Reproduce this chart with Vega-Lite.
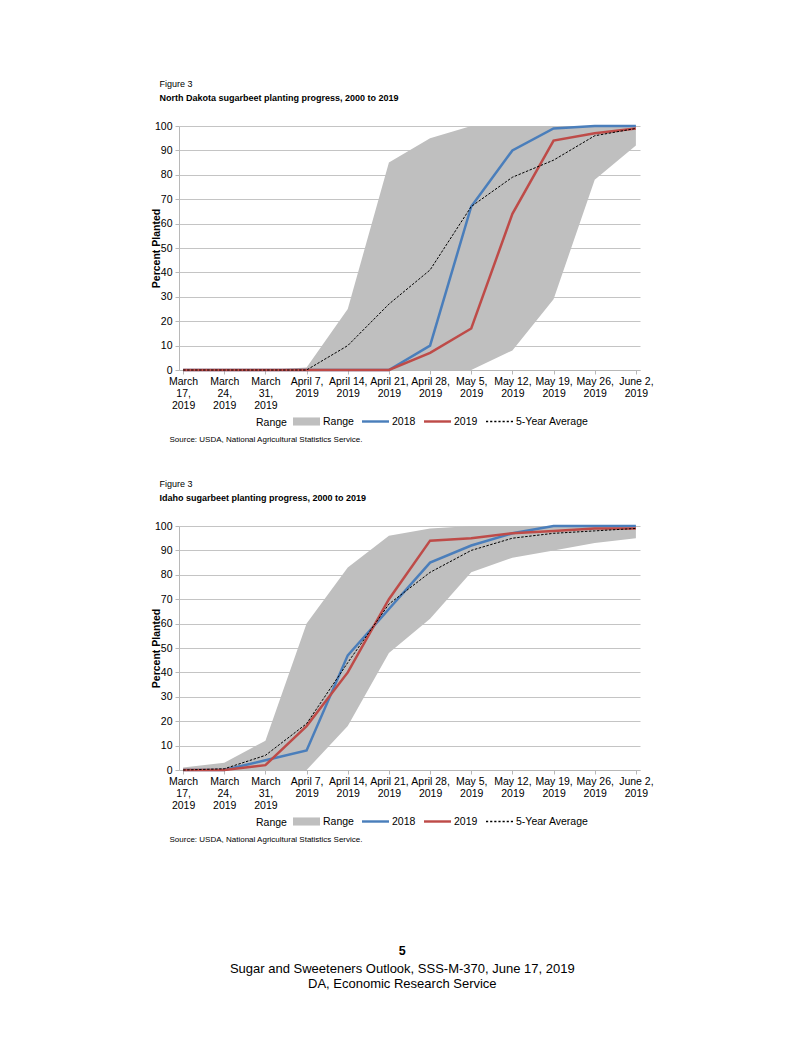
{
  "$schema": "https://vega.github.io/schema/vega-lite/v6.json",
  "padding": {"left": 151, "top": 80, "right": 5, "bottom": 5},
  "background": "white",
  "config": {
    "font": "Liberation Sans",
    "view": {"stroke": null},
    "axis": {"labelFont": "Liberation Sans", "labelFontSize": 10.5, "labelColor": "black", "titleFont": "Liberation Sans", "titleColor": "black", "domainColor": "#B8B8B8", "tickColor": "#B8B8B8", "gridColor": "#C4C4C4"},
    "axisY": {"grid": true, "tickSize": 4, "labelPadding": 3, "titleFontSize": 10.5, "titleFontWeight": "bold", "titlePadding": -7, "labelOverlap": false},
    "axisX": {"grid": false, "labelAngle": 0, "tickSize": 4, "labelLineHeight": 12, "labelPadding": 2, "labelBaseline": "top"},
    "legend": {"orient": "none", "legendX": 77, "legendY": 282, "direction": "horizontal", "titleOrient": "left", "titleAnchor": "middle", "titleBaseline": "top", "titlePadding": 6, "titleFontSize": 10.5, "titleFontWeight": "normal", "titleColor": "black", "titleFont": "Liberation Sans", "labelFontSize": 10.5, "labelColor": "black", "labelFont": "Liberation Sans", "symbolSize": 729, "symbolOpacity": 1, "symbolStrokeWidth": 0, "labelOffset": 3, "columnPadding": 8, "padding": 0}
  },
  "datasets": {
    "nd_range": [
      {"week": "March 17, 2019", "pct": 0, "pct_high": 0},
      {"week": "March 24, 2019", "pct": 0, "pct_high": 0},
      {"week": "March 31, 2019", "pct": 0, "pct_high": 0},
      {"week": "April 7, 2019", "pct": 0, "pct_high": 1},
      {"week": "April 14, 2019", "pct": 0, "pct_high": 25},
      {"week": "April 21, 2019", "pct": 0, "pct_high": 85},
      {"week": "April 28, 2019", "pct": 0, "pct_high": 95},
      {"week": "May 5, 2019", "pct": 0, "pct_high": 100},
      {"week": "May 12, 2019", "pct": 8, "pct_high": 100},
      {"week": "May 19, 2019", "pct": 29, "pct_high": 100},
      {"week": "May 26, 2019", "pct": 78, "pct_high": 100},
      {"week": "June 2, 2019", "pct": 92, "pct_high": 100}
    ],
    "nd_lines": [
      {"week": "March 17, 2019", "series": "2018", "pct": 0},
      {"week": "March 24, 2019", "series": "2018", "pct": 0},
      {"week": "March 31, 2019", "series": "2018", "pct": 0},
      {"week": "April 7, 2019", "series": "2018", "pct": 0},
      {"week": "April 14, 2019", "series": "2018", "pct": 0},
      {"week": "April 21, 2019", "series": "2018", "pct": 0},
      {"week": "April 28, 2019", "series": "2018", "pct": 10},
      {"week": "May 5, 2019", "series": "2018", "pct": 67},
      {"week": "May 12, 2019", "series": "2018", "pct": 90},
      {"week": "May 19, 2019", "series": "2018", "pct": 99},
      {"week": "May 26, 2019", "series": "2018", "pct": 100},
      {"week": "June 2, 2019", "series": "2018", "pct": 100},
      {"week": "March 17, 2019", "series": "2019", "pct": 0},
      {"week": "March 24, 2019", "series": "2019", "pct": 0},
      {"week": "March 31, 2019", "series": "2019", "pct": 0},
      {"week": "April 7, 2019", "series": "2019", "pct": 0},
      {"week": "April 14, 2019", "series": "2019", "pct": 0},
      {"week": "April 21, 2019", "series": "2019", "pct": 0},
      {"week": "April 28, 2019", "series": "2019", "pct": 7},
      {"week": "May 5, 2019", "series": "2019", "pct": 17},
      {"week": "May 12, 2019", "series": "2019", "pct": 64},
      {"week": "May 19, 2019", "series": "2019", "pct": 94},
      {"week": "May 26, 2019", "series": "2019", "pct": 97},
      {"week": "June 2, 2019", "series": "2019", "pct": 99},
      {"week": "March 17, 2019", "series": "5-Year Average", "pct": 0},
      {"week": "March 24, 2019", "series": "5-Year Average", "pct": 0},
      {"week": "March 31, 2019", "series": "5-Year Average", "pct": 0},
      {"week": "April 7, 2019", "series": "5-Year Average", "pct": 0},
      {"week": "April 14, 2019", "series": "5-Year Average", "pct": 10},
      {"week": "April 21, 2019", "series": "5-Year Average", "pct": 27},
      {"week": "April 28, 2019", "series": "5-Year Average", "pct": 41},
      {"week": "May 5, 2019", "series": "5-Year Average", "pct": 67},
      {"week": "May 12, 2019", "series": "5-Year Average", "pct": 79},
      {"week": "May 19, 2019", "series": "5-Year Average", "pct": 86},
      {"week": "May 26, 2019", "series": "5-Year Average", "pct": 96},
      {"week": "June 2, 2019", "series": "5-Year Average", "pct": 99}
    ],
    "id_range": [
      {"week": "March 17, 2019", "pct": 0, "pct_high": 1},
      {"week": "March 24, 2019", "pct": 0, "pct_high": 3},
      {"week": "March 31, 2019", "pct": 0, "pct_high": 12},
      {"week": "April 7, 2019", "pct": 0, "pct_high": 60},
      {"week": "April 14, 2019", "pct": 18, "pct_high": 83},
      {"week": "April 21, 2019", "pct": 48, "pct_high": 96},
      {"week": "April 28, 2019", "pct": 62, "pct_high": 99},
      {"week": "May 5, 2019", "pct": 81, "pct_high": 100},
      {"week": "May 12, 2019", "pct": 87, "pct_high": 100},
      {"week": "May 19, 2019", "pct": 90, "pct_high": 100},
      {"week": "May 26, 2019", "pct": 93, "pct_high": 100},
      {"week": "June 2, 2019", "pct": 95, "pct_high": 100}
    ],
    "id_lines": [
      {"week": "March 17, 2019", "series": "2018", "pct": 0},
      {"week": "March 24, 2019", "series": "2018", "pct": 0},
      {"week": "March 31, 2019", "series": "2018", "pct": 4},
      {"week": "April 7, 2019", "series": "2018", "pct": 8},
      {"week": "April 14, 2019", "series": "2018", "pct": 47},
      {"week": "April 21, 2019", "series": "2018", "pct": 66},
      {"week": "April 28, 2019", "series": "2018", "pct": 85},
      {"week": "May 5, 2019", "series": "2018", "pct": 92},
      {"week": "May 12, 2019", "series": "2018", "pct": 97},
      {"week": "May 19, 2019", "series": "2018", "pct": 100},
      {"week": "May 26, 2019", "series": "2018", "pct": 100},
      {"week": "June 2, 2019", "series": "2018", "pct": 100},
      {"week": "March 17, 2019", "series": "2019", "pct": 0},
      {"week": "March 24, 2019", "series": "2019", "pct": 0},
      {"week": "March 31, 2019", "series": "2019", "pct": 2},
      {"week": "April 7, 2019", "series": "2019", "pct": 18},
      {"week": "April 14, 2019", "series": "2019", "pct": 40},
      {"week": "April 21, 2019", "series": "2019", "pct": 70},
      {"week": "April 28, 2019", "series": "2019", "pct": 94},
      {"week": "May 5, 2019", "series": "2019", "pct": 95},
      {"week": "May 12, 2019", "series": "2019", "pct": 97},
      {"week": "May 19, 2019", "series": "2019", "pct": 98},
      {"week": "May 26, 2019", "series": "2019", "pct": 99},
      {"week": "June 2, 2019", "series": "2019", "pct": 99},
      {"week": "March 17, 2019", "series": "5-Year Average", "pct": 0},
      {"week": "March 24, 2019", "series": "5-Year Average", "pct": 0.5},
      {"week": "March 31, 2019", "series": "5-Year Average", "pct": 6},
      {"week": "April 7, 2019", "series": "5-Year Average", "pct": 19},
      {"week": "April 14, 2019", "series": "5-Year Average", "pct": 44},
      {"week": "April 21, 2019", "series": "5-Year Average", "pct": 68},
      {"week": "April 28, 2019", "series": "5-Year Average", "pct": 81},
      {"week": "May 5, 2019", "series": "5-Year Average", "pct": 90},
      {"week": "May 12, 2019", "series": "5-Year Average", "pct": 95},
      {"week": "May 19, 2019", "series": "5-Year Average", "pct": 97},
      {"week": "May 26, 2019", "series": "5-Year Average", "pct": 98},
      {"week": "June 2, 2019", "series": "5-Year Average", "pct": 99}
    ]
  },
  "title": {
    "text": "5",
    "subtitle": ["Sugar and Sweeteners Outlook, SSS-M-370, June 17, 2019", "DA, Economic Research Service"],
    "orient": "bottom",
    "anchor": "middle",
    "fontSize": 12.5,
    "fontWeight": "bold",
    "color": "black",
    "subtitleFontSize": 13,
    "subtitleColor": "black",
    "subtitleLineHeight": 15,
    "subtitlePadding": 5,
    "offset": 102
  },
  "spacing": 37,
  "resolve": {
    "scale": {"x": "independent", "y": "independent", "color": "independent", "shape": "independent"},
    "legend": {"color": "independent", "shape": "independent"}
  },
  "vconcat": [
    {
      "width": 461,
      "height": 244,
      "title": {"text": "Figure 3", "subtitle": "North Dakota sugarbeet planting progress, 2000 to 2019", "anchor": "start", "frame": "bounds", "dx": 8, "fontSize": 9, "fontWeight": "normal", "color": "black", "subtitleFontSize": 9, "subtitleFontWeight": "bold", "subtitleColor": "black", "subtitlePadding": 5, "offset": 18},
      "encoding": {
        "x": {
          "field": "week", "type": "ordinal",
          "scale": {"type": "point", "padding": 0.1, "domain": ["March 17, 2019", "March 24, 2019", "March 31, 2019", "April 7, 2019", "April 14, 2019", "April 21, 2019", "April 28, 2019", "May 5, 2019", "May 12, 2019", "May 19, 2019", "May 26, 2019", "June 2, 2019"]},
          "axis": {
            "title": "Source: USDA, National Agricultural Statistics Service.",
            "titleFontSize": 8, "titleFontWeight": "normal", "titleAlign": "left", "titleAnchor": "start", "titleBaseline": "middle", "titleX": -10, "titleY": 69,
            "labelExpr": "indexof(datum.value, 'March') == 0 ? split(datum.value, ' ') : [slice(datum.value, 0, -5), '2019']"
          }
        },
        "y": {
          "field": "pct", "type": "quantitative", "title": "Percent Planted",
          "scale": {"domain": [0, 100], "nice": false, "zero": true},
          "axis": {"values": [0, 10, 20, 30, 40, 50, 60, 70, 80, 90, 100], "tickCount": 11}
        }
      },
      "layer": [
        {
          "data": {"name": "nd_range"},
          "mark": {"type": "area", "color": "#BFBFBF"},
          "encoding": {"y2": {"field": "pct_high"}}
        },
        {
          "data": {"name": "nd_lines"},
          "transform": [{"filter": "datum.series == '2018'"}],
          "mark": {"type": "line", "color": "#4A7EBB", "strokeWidth": 2.5}
        },
        {
          "data": {"name": "nd_lines"},
          "transform": [{"filter": "datum.series == '2019'"}],
          "mark": {"type": "line", "color": "#BE4B48", "strokeWidth": 2.5}
        },
        {
          "data": {"name": "nd_lines"},
          "transform": [{"filter": "datum.series == '5-Year Average'"}],
          "mark": {"type": "line", "color": "#000000", "strokeWidth": 1, "strokeDash": [2.5, 1.5]}
        },
        {
          "data": {"name": "nd_lines"},
          "transform": [{"filter": "datum.pct < 0"}],
          "mark": {"type": "point", "filled": true, "opacity": 1},
          "encoding": {
            "color": {
              "field": "series", "type": "nominal", "title": "Range",
              "scale": {"domain": ["Range", "2018", "2019", "5-Year Average"], "range": ["#BFBFBF", "#4A7EBB", "#BE4B48", "#000000"]}
            },
            "shape": {
              "field": "series", "type": "nominal", "title": "Range",
              "scale": {"domain": ["Range", "2018", "2019", "5-Year Average"], "range": ["M-1,-0.3H1V0.3H-1Z", "M-1,-0.09H1V0.09H-1Z", "M-1,-0.09H1V0.09H-1Z", "M-1,-0.05H-0.84V0.05H-1Z M-0.693,-0.05H-0.533V0.05H-0.693Z M-0.387,-0.05H-0.227V0.05H-0.387Z M-0.08,-0.05H0.08V0.05H-0.08Z M0.227,-0.05H0.387V0.05H0.227Z M0.533,-0.05H0.693V0.05H0.533Z M0.84,-0.05H1V0.05H0.84Z"]}
            }
          }
        }
      ]
    },
    {
      "width": 461,
      "height": 244,
      "title": {"text": "Figure 3", "subtitle": "Idaho sugarbeet planting progress, 2000 to 2019", "anchor": "start", "frame": "bounds", "dx": 8, "fontSize": 9, "fontWeight": "normal", "color": "black", "subtitleFontSize": 9, "subtitleFontWeight": "bold", "subtitleColor": "black", "subtitlePadding": 5, "offset": 18},
      "encoding": {
        "x": {
          "field": "week", "type": "ordinal",
          "scale": {"type": "point", "padding": 0.1, "domain": ["March 17, 2019", "March 24, 2019", "March 31, 2019", "April 7, 2019", "April 14, 2019", "April 21, 2019", "April 28, 2019", "May 5, 2019", "May 12, 2019", "May 19, 2019", "May 26, 2019", "June 2, 2019"]},
          "axis": {
            "title": "Source: USDA, National Agricultural Statistics Service.",
            "titleFontSize": 8, "titleFontWeight": "normal", "titleAlign": "left", "titleAnchor": "start", "titleBaseline": "middle", "titleX": -10, "titleY": 69,
            "labelExpr": "indexof(datum.value, 'March') == 0 ? split(datum.value, ' ') : [slice(datum.value, 0, -5), '2019']"
          }
        },
        "y": {
          "field": "pct", "type": "quantitative", "title": "Percent Planted",
          "scale": {"domain": [0, 100], "nice": false, "zero": true},
          "axis": {"values": [0, 10, 20, 30, 40, 50, 60, 70, 80, 90, 100], "tickCount": 11}
        }
      },
      "layer": [
        {
          "data": {"name": "id_range"},
          "mark": {"type": "area", "color": "#BFBFBF"},
          "encoding": {"y2": {"field": "pct_high"}}
        },
        {
          "data": {"name": "id_lines"},
          "transform": [{"filter": "datum.series == '2018'"}],
          "mark": {"type": "line", "color": "#4A7EBB", "strokeWidth": 2.5}
        },
        {
          "data": {"name": "id_lines"},
          "transform": [{"filter": "datum.series == '2019'"}],
          "mark": {"type": "line", "color": "#BE4B48", "strokeWidth": 2.5}
        },
        {
          "data": {"name": "id_lines"},
          "transform": [{"filter": "datum.series == '5-Year Average'"}],
          "mark": {"type": "line", "color": "#000000", "strokeWidth": 1, "strokeDash": [2.5, 1.5]}
        },
        {
          "data": {"name": "id_lines"},
          "transform": [{"filter": "datum.pct < 0"}],
          "mark": {"type": "point", "filled": true, "opacity": 1},
          "encoding": {
            "color": {
              "field": "series", "type": "nominal", "title": "Range",
              "scale": {"domain": ["Range", "2018", "2019", "5-Year Average"], "range": ["#BFBFBF", "#4A7EBB", "#BE4B48", "#000000"]}
            },
            "shape": {
              "field": "series", "type": "nominal", "title": "Range",
              "scale": {"domain": ["Range", "2018", "2019", "5-Year Average"], "range": ["M-1,-0.3H1V0.3H-1Z", "M-1,-0.09H1V0.09H-1Z", "M-1,-0.09H1V0.09H-1Z", "M-1,-0.05H-0.84V0.05H-1Z M-0.693,-0.05H-0.533V0.05H-0.693Z M-0.387,-0.05H-0.227V0.05H-0.387Z M-0.08,-0.05H0.08V0.05H-0.08Z M0.227,-0.05H0.387V0.05H0.227Z M0.533,-0.05H0.693V0.05H0.533Z M0.84,-0.05H1V0.05H0.84Z"]}
            }
          }
        }
      ]
    }
  ]
}
